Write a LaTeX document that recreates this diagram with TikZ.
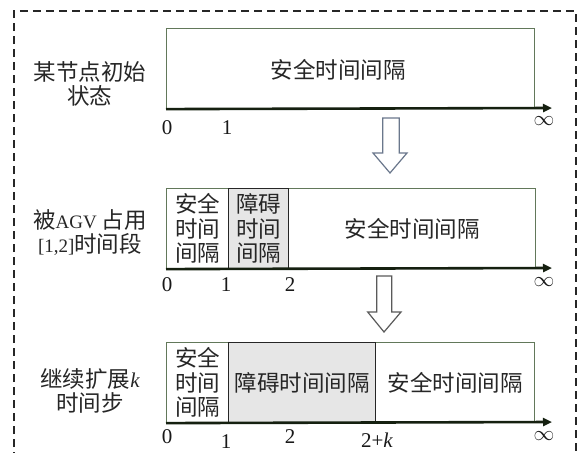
\documentclass[tikz,border=0pt]{standalone}
\usepackage{fontspec}
\setmainfont{Liberation Serif}
\newfontfamily\cjk{Noto Sans CJK SC}
\usetikzlibrary{arrows.meta}
\definecolor{boxgreen}{HTML}{62785A}
\definecolor{axiscol}{HTML}{152010}
\definecolor{grayfill}{HTML}{E6E6E6}
\definecolor{arrowblue}{HTML}{6A778C}
\definecolor{arrowgray}{HTML}{5A5A5A}
\begin{document}
\begin{tikzpicture}[x=1pt,y=-1pt,
  cjkfont/.style={font=\fontsize{22.5}{24.5}\selectfont\cjk},
  safe/.style={draw=boxgreen, line width=1.1pt, fill=white, inner sep=0pt, anchor=north west},
  obst/.style={draw=black!85, line width=1.1pt, fill=grayfill, inner sep=0pt, anchor=north west},
  txt/.style={cjkfont, inner sep=0pt, align=center, text=black!85},
  lab/.style={font=\fontsize{22.5}{24}\selectfont\cjk, inner sep=0pt, align=center, text=black!85},
  tick/.style={font=\fontsize{21}{21}\selectfont, inner sep=0pt, text=black!90},
  axis/.style={draw=axiscol, line width=2.6pt, -{Triangle[length=9pt,width=8pt]}},
  frame/.style={draw=black!85, line width=1.6pt, dash pattern=on 8pt off 5pt},
  harrowA/.style={draw=arrowblue, line width=1.2pt, fill=white, line join=miter},
  harrowB/.style={draw=arrowgray, line width=1.2pt, fill=white, line join=miter}]
\useasboundingbox (0,0) rectangle (579,453);
\fill[white] (0,0) rectangle (579,453);
% dashed frame
\coordinate (fbl) at (14,460);
\coordinate (ftl) at (14,11);
\coordinate (ftr) at (576,11);
\coordinate (fbr) at (576,460);
\draw[frame] (fbl) -- (ftl) -- (ftr) -- (fbr);

% ---------- row 1 ----------
\node[lab] (l1) at (90,83.5) {某节点初始\\状态};
\node[safe, minimum width=368, minimum height=80] (s1) at (166,28) {};
\node[txt] (t1) at (338,70) {安全时间间隔};
\coordinate (e1) at (552,108);
\draw[axis] (s1.south west) -- (e1);
\node[tick] (a10) at (167,128) {0};
\node[tick] (a11) at (227,128) {1};
\node[tick] (a1i) at (544,121) {$\infty$};

% arrow 1
\draw[harrowA] (382.7,118) -- (399.3,118) -- (399.3,153) -- (407,153) -- (390,173)
  -- (373,153) -- (382.7,153) -- cycle;

% ---------- row 2 ----------
\node[lab] (l2) at (90,232.5) {被{\fontsize{19}{24}\selectfont\rmfamily AGV} 占用\\{\fontsize{19}{24}\selectfont\rmfamily [1,2]}时间段};
\node[safe, minimum width=62, minimum height=80] (s2a) at (166,188) {};
\node[safe, minimum width=247, minimum height=80] (s2c) at (288,188) {};
\node[obst, minimum width=60, minimum height=80] (s2b) at (228,188) {};
\node[txt] (t2a) at (s2a.center) {安全\\时间\\间隔};
\node[txt] (t2b) at (s2b.center) {障碍\\时间\\间隔};
\node[txt] (t2c) at (s2c.center) {安全时间间隔};
\coordinate (e2) at (552,268);
\draw[axis] (s2a.south west) -- (e2);
\node[tick] (a20) at (167,285) {0};
\node[tick] (a21) at (226,285) {1};
\node[tick] (a22) at (290,285) {2};
\node[tick] (a2i) at (544,282) {$\infty$};

% arrow 2
\draw[harrowB] (376.7,276) -- (391.7,276) -- (391.7,312) -- (401,312) -- (384,332)
  -- (367.7,312) -- (376.7,312) -- cycle;

% ---------- row 3 ----------
\node[lab] (l3) at (90,390.5) {继续扩展{\fontsize{21}{24}\selectfont\rmfamily\itshape k}\\时间步};
\node[safe, minimum width=62, minimum height=80] (s3a) at (166,342) {};
\node[safe, minimum width=159, minimum height=80] (s3c) at (375,342) {};
\node[obst, minimum width=147, minimum height=80] (s3b) at (228,342) {};
\node[txt] (t3a) at (s3a.center) {安全\\时间\\间隔};
\node[txt] (t3b) at (s3b.center) {障碍时间间隔};
\node[txt] (t3c) at (s3c.center) {安全时间间隔};
\coordinate (e3) at (552,422);
\draw[axis] (s3a.south west) -- (e3);
\node[tick] (a30) at (167,437) {0};
\node[tick] (a31) at (226,442) {1};
\node[tick] (a32) at (290,437) {2};
\node[tick] (a3k) at (377,440) {2+\textit{k}};
\node[tick] (a3i) at (544,436) {$\infty$};
\end{tikzpicture}
\end{document}
